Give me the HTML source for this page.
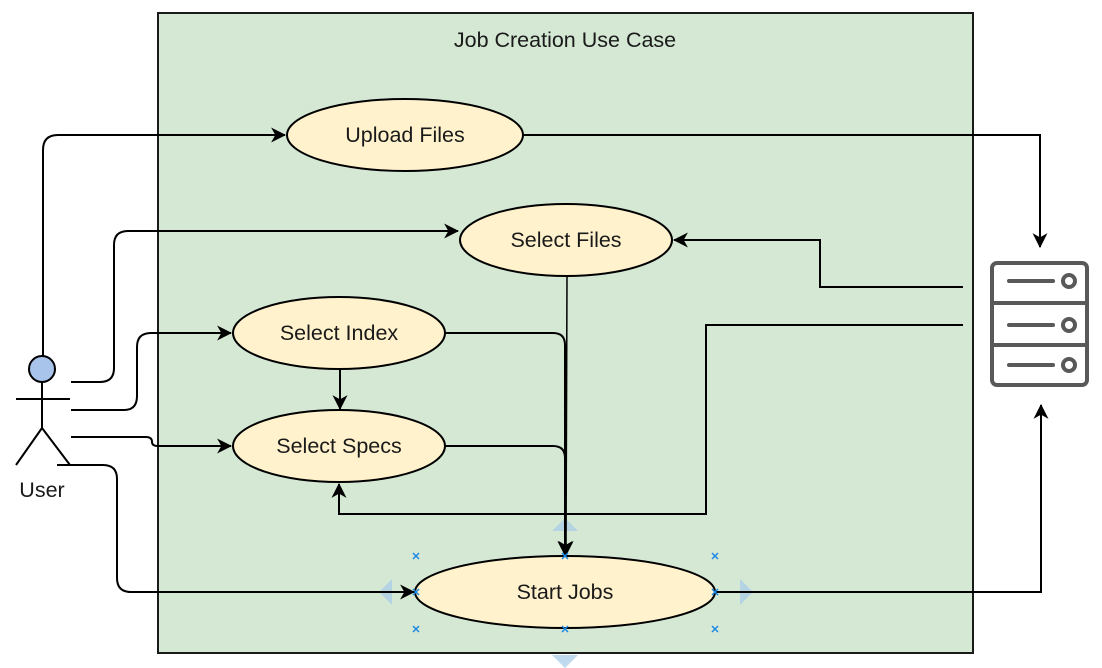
<!DOCTYPE html>
<html><head><meta charset="utf-8"><style>
html,body{margin:0;padding:0;background:#fff;width:1102px;height:668px;overflow:hidden}
svg{display:block}
text{font-family:"Liberation Sans",sans-serif;fill:#1a1a1a}
</style></head><body>
<svg width="1102" height="668" viewBox="0 0 1102 668" xmlns="http://www.w3.org/2000/svg">
<defs>
<marker id="a" viewBox="0 0 14 14" refX="13" refY="7" markerWidth="15" markerHeight="15" markerUnits="userSpaceOnUse" orient="auto">
<path d="M0,0 L14,7 L0,14 L4,7 Z" fill="#000"/>
</marker>
</defs>
<rect x="158" y="13" width="815" height="640" fill="#d5e8d4" stroke="#1a1a1a" stroke-width="2"/>
<text x="565" y="47" font-size="21.5" text-anchor="middle">Job Creation Use Case</text>

<g fill="#a9cde8" opacity="0.75">
<path d="M552,531 L565,518 L578,531 Z"/>
<path d="M552,655 L565,668 L578,655 Z"/>
<path d="M392,579 L379,592 L392,605 Z"/>
<path d="M740,579 L753,592 L740,605 Z"/>
</g>

<g fill="none" stroke="#000" stroke-width="2">
<path d="M43,356 V150 Q43,135 58,135 H285" marker-end="url(#a)"/>
<path d="M71,382 H100 Q114,382 114,368 V245 Q114,231 128,231 H458" marker-end="url(#a)"/>
<path d="M71,410 H124 Q137,410 137,396 V347 Q137,333 151,333 H231" marker-end="url(#a)"/>
<path d="M71,437 H146 Q152,437 152,442 Q152,446 158,446 H231" marker-end="url(#a)"/>
<path d="M57,465 H103 Q117,465 117,479 V578 Q117,592 131,592 H414" marker-end="url(#a)"/>
<path d="M523,135 H1040 V247" marker-end="url(#a)"/>
<path d="M715,592 H1041 V405" marker-end="url(#a)"/>
<path d="M567,276 L566,555" marker-end="url(#a)" stroke-width="1.5"/>
<path d="M445,333 H553 Q565,333 565,345 V555" marker-end="url(#a)"/>
<path d="M445,446 H553 Q565,446 565,458 V555" marker-end="url(#a)"/>
<path d="M963,287 H820 V240 H674" marker-end="url(#a)"/>
<path d="M963,325 H706 V514 H339 V484" marker-end="url(#a)"/>
<path d="M340,369 V409" marker-end="url(#a)"/>
</g>

<g fill="#fff2cc" stroke="#000" stroke-width="2">
<ellipse cx="405" cy="135" rx="118" ry="36"/>
<ellipse cx="566" cy="240" rx="106" ry="36"/>
<ellipse cx="339" cy="333" rx="106" ry="36"/>
<ellipse cx="339" cy="446" rx="106" ry="36"/>
<ellipse cx="565" cy="592" rx="150" ry="36"/>
</g>
<g font-size="21.5" text-anchor="middle">
<text x="405" y="142">Upload Files</text>
<text x="566" y="247">Select Files</text>
<text x="339" y="340">Select Index</text>
<text x="339" y="453">Select Specs</text>
<text x="565" y="599">Start Jobs</text>
</g>

<g stroke="#1e88e5" stroke-width="1.5">
<path d="M413,553 l6,6 m0,-6 l-6,6"/>
<path d="M562,553 l6,6 m0,-6 l-6,6"/>
<path d="M712,553 l6,6 m0,-6 l-6,6"/>
<path d="M413,626 l6,6 m0,-6 l-6,6"/>
<path d="M562,626 l6,6 m0,-6 l-6,6"/>
<path d="M712,626 l6,6 m0,-6 l-6,6"/>
<path d="M413,589 l6,6 m0,-6 l-6,6"/>
<path d="M712,589 l6,6 m0,-6 l-6,6"/>
</g>

<g stroke="#000" stroke-width="2" fill="none">
<line x1="42" y1="382" x2="42" y2="428"/>
<line x1="16" y1="399" x2="70" y2="399"/>
<path d="M16,465 L42,428 L70,465"/>
</g>
<circle cx="42" cy="369" r="13" fill="#a9c4eb" stroke="#000" stroke-width="2"/>
<text x="42" y="497" font-size="21.5" text-anchor="middle">User</text>

<g stroke="#595959" stroke-width="4" fill="#fff">
<rect x="992" y="263" width="95" height="122" rx="5"/>
<line x1="992" y1="303" x2="1087" y2="303"/>
<line x1="992" y1="345" x2="1087" y2="345"/>
</g>
<g stroke="#595959" stroke-width="4" stroke-linecap="round" fill="none">
<line x1="1009" y1="281" x2="1053" y2="281"/>
<line x1="1009" y1="325" x2="1053" y2="325"/>
<line x1="1009" y1="365" x2="1053" y2="365"/>
<circle cx="1069" cy="281" r="6"/>
<circle cx="1069" cy="325" r="6"/>
<circle cx="1069" cy="365" r="6"/>
</g>
</svg>
</body></html>
